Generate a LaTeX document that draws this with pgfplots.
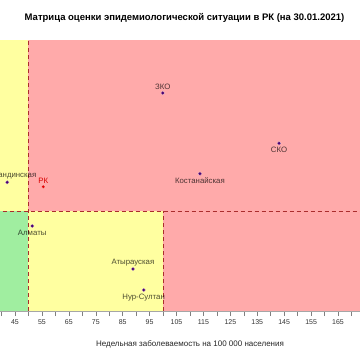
\documentclass[border=0pt]{standalone}
\usepackage{pgfplots}
\usepackage{pgfplotstable}
\pgfplotsset{compat=1.18}
\usepackage{fontspec}
\setmainfont{Liberation Sans}
\definecolor{zred}{RGB}{255,170,170}
\definecolor{zyel}{RGB}{255,255,160}
\definecolor{zgrn}{RGB}{160,238,160}
\definecolor{dline}{RGB}{170,45,45}
\definecolor{ptcol}{RGB}{75,0,110}
\pgfplotstableread{
x y lab
99.9 2.18 ЗКО
42.1 1.287 Карагандинская
88.8 0.42 Атырауская
}\ptsabove
\pgfplotstableread{
x y lab
143.1 1.677 СКО
113.7 1.373 Костанайская
51.4 0.85 Алматы
92.8 0.21 Нур-Султан
}\ptsbelow
\pgfplotsset{
  ptstyle/.style={only marks, mark=*, mark size=1.9pt, mark options={fill=ptcol, draw=white, draw opacity=0.4, line width=0.5pt},
  point meta=explicit symbolic, nodes near coords},
}
\tikzset{lblstyle/.style={inner sep=0pt, font=\fontsize{7.8}{9}\selectfont, text=black, text opacity=0.7}}
\begin{document}
\begin{tikzpicture}
\begin{axis}[
  name=ax,
  scale only axis, width=360pt, height=271pt,
  xmin=39.43, xmax=173.16, ymin=0, ymax=2.71,
  axis y line=none, axis x line*=bottom,
  x axis line style={gray!70, line width=0.4pt},
  xtick={45,55,...,175}, minor xtick={40,50,...,170},
  tick align=outside, major tick length=5pt, minor tick length=5pt,
  tick style={gray, line width=0.5pt},
  xticklabel style={font=\fontsize{7}{8}\selectfont, text=black!80, inner sep=3pt},
  /pgf/number format/assume math mode=true,
]
% background zones
\addplot[fill=zred, draw=none] coordinates {(30,1) (180,1) (180,3) (30,3)} -- cycle;
\addplot[fill=zyel, draw=none] coordinates {(30,1) (50,1) (50,3) (30,3)} -- cycle;
\addplot[fill=zgrn, draw=none] coordinates {(30,0) (50,0) (50,1) (30,1)} -- cycle;
\addplot[fill=zyel, draw=none] coordinates {(50,0) (100,0) (100,1) (50,1)} -- cycle;
\addplot[fill=zred, draw=none] coordinates {(100,0) (180,0) (180,1) (100,1)} -- cycle;
% dashed borders
\addplot[dline, line width=0.8pt, dash pattern=on 4pt off 3pt] coordinates {(50,0) (50,2.71)};
\addplot[dline, line width=0.8pt, dash pattern=on 4pt off 3pt] coordinates {(100,0) (100,1)};
\addplot[dline, line width=0.8pt, dash pattern=on 4pt off 3pt] coordinates {(30,1) (180,1)};
% regions
\addplot[ptstyle, every node near coord/.style={lblstyle, anchor=south, yshift=3pt}] table[x=x, y=y, meta=lab] {\ptsabove};
\addplot[ptstyle, every node near coord/.style={lblstyle, anchor=north, yshift=-3.5pt}] table[x=x, y=y, meta=lab] {\ptsbelow};
% RK
\addplot[only marks, mark=*, mark size=1.9pt, mark options={fill=red!90!black, draw=white, draw opacity=0.4, line width=0.5pt},
  nodes near coords={РК},
  every node near coord/.style={anchor=south, yshift=3pt, inner sep=0pt, font=\fontsize{7.8}{9}\selectfont, text=red!85!black}
] coordinates {(55.5,1.243)};
\end{axis}
\node[font=\bfseries\fontsize{9.5}{11}\selectfont] at ([xshift=4.5pt,yshift=22pt]ax.north) {Матрица оценки эпидемиологической ситуации в РК (на 30.01.2021)};
\node[font=\fontsize{8}{9}\selectfont, text=black!85] at ([xshift=10pt,yshift=-33pt]ax.south) {Недельная заболеваемость на 100 000 населения};
\pgfresetboundingbox
\path[use as bounding box] ([yshift=-49pt]ax.south west) rectangle ([yshift=40pt]ax.north east);
\end{tikzpicture}
\end{document}
